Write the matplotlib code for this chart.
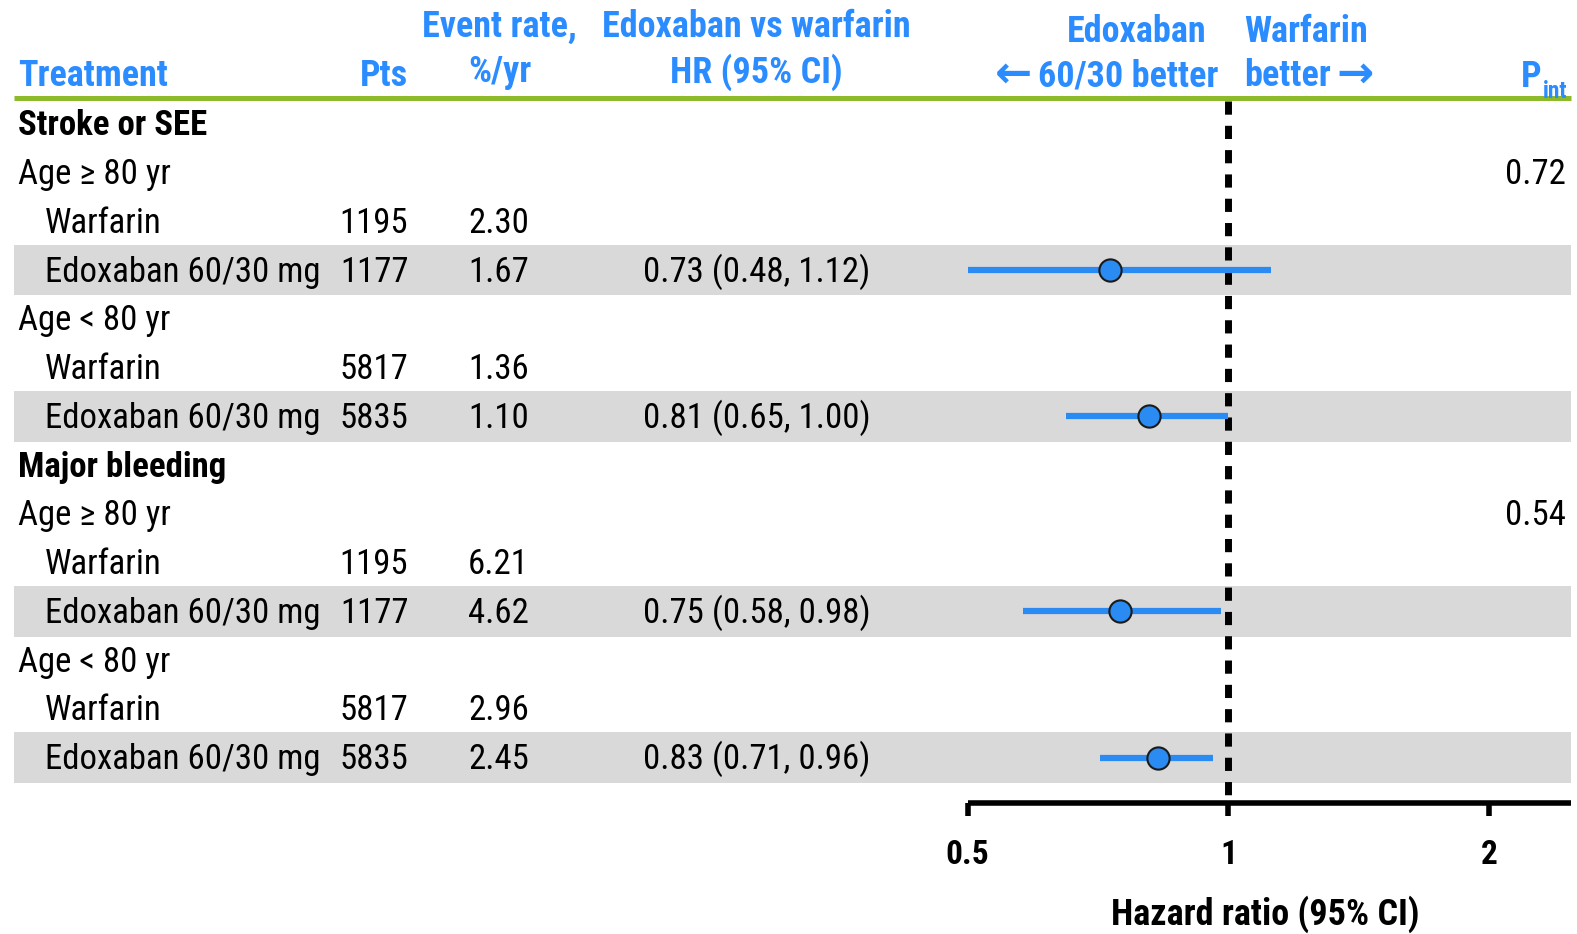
import matplotlib.pyplot as plt
from matplotlib import font_manager

installed = {f.name for f in font_manager.fontManager.ttflist}
narrow = [n for n in ['Liberation Sans Narrow', 'Arial Narrow', 'Roboto Condensed'] if n in installed]
if narrow:
    plt.rcParams['font.family'] = [narrow[0], 'DejaVu Sans']
    fs, hfs = 25, 26
else:
    plt.rcParams['font.family'] = ['Liberation Sans', 'DejaVu Sans']
    fs, hfs = 22, 22

# table rows (top to bottom)
labels = ['Stroke or SEE', 'Age \u2265 80 yr', 'Warfarin', 'Edoxaban 60/30 mg',
          'Age < 80 yr', 'Warfarin', 'Edoxaban 60/30 mg',
          'Major bleeding', 'Age \u2265 80 yr', 'Warfarin', 'Edoxaban 60/30 mg',
          'Age < 80 yr', 'Warfarin', 'Edoxaban 60/30 mg']
levels = [0, 1, 2, 2, 1, 2, 2, 0, 1, 2, 2, 1, 2, 2]
pts = ['', '', '1195', '1177', '', '5817', '5835', '', '', '1195', '1177', '', '5817', '5835']
rates = ['', '', '2.30', '1.67', '', '1.36', '1.10', '', '', '6.21', '4.62', '', '2.96', '2.45']
p_int = ['', '0.72', '', '', '', '', '', '', '0.54', '', '', '', '', '']

# hazard ratios (edoxaban rows)
hr_rows = [3, 6, 10, 13]
hr = [0.73, 0.81, 0.75, 0.83]
ci_lo = [0.48, 0.65, 0.58, 0.71]
ci_hi = [1.12, 1.00, 0.98, 0.96]

hdr_blue = '#2B8CFF'
line_blue = '#2A8BF2'
green = '#8CBA2A'
band = '#D9D9D9'

W, H = 1568, 929   # layout units (as measured on the reference)
ROW0, STEP = 123, 48.5


def ry(px):
    # pixel height -> row units
    return (px - ROW0) / STEP


fig = plt.figure(figsize=(15.77, 9.34), dpi=100)
ax = fig.add_axes([0, 0, 1, 1])
ax.set_xlim(0, W)
ax.set_ylim(ry(H), ry(0))
ax.axis('off')

off = 0.24  # baseline offset in rows

for r in hr_rows:
    ax.fill_between([14, 1562], r - 0.52, r + 0.52, color=band, lw=0, zorder=0)

ax.plot([14, 1562], [ry(97), ry(97)], color=green, lw=3.6, solid_capstyle='butt')

for i, lab in enumerate(labels):
    x = 18 if levels[i] < 2 else 45
    ax.text(x, i + off, lab, fontsize=fs, va='baseline', ha='left',
            fontweight='bold' if levels[i] == 0 else 'normal')
    if pts[i]:
        ax.text(406, i + off, pts[i], fontsize=fs, va='baseline', ha='right')
    if rates[i]:
        ax.text(526, i + off, rates[i], fontsize=fs, va='baseline', ha='right')
    if p_int[i]:
        ax.text(1557, i + off, p_int[i], fontsize=fs, va='baseline', ha='right')

for r, h, lo, hi in zip(hr_rows, hr, ci_lo, ci_hi):
    ax.text(752, r + off, f'{h:.2f} ({lo:.2f}, {hi:.2f})', fontsize=fs,
            va='baseline', ha='center')

# headers
hk = dict(fontsize=hfs, fontweight='bold', color=hdr_blue, va='baseline')
ax.text(18, ry(86), 'Treatment', ha='left', **hk)
ax.text(406, ry(86), 'Pts', ha='right', **hk)
ax.text(497, ry(37), 'Event rate,', ha='center', **hk)
ax.text(497, ry(82), '%/yr', ha='center', **hk)
ax.text(752, ry(37), 'Edoxaban vs warfarin', ha='center', **hk)
ax.text(752, ry(82), 'HR (95% CI)', ha='center', **hk)
ax.text(1130, ry(42), 'Edoxaban', ha='center', **hk)
t_left = ax.text(1211, ry(86), '60/30 better', ha='right', **hk)
ax.text(1237, ry(42), 'Warfarin', ha='left', **hk)
t_right = ax.text(1237, ry(86), 'better', ha='left', **hk)
ax.annotate('\u2190', xy=(0, 0), xycoords=t_left, xytext=(-4, -1),
            textcoords='offset points', ha='right', va='bottom',
            fontsize=hfs + 6, fontweight='bold', color=hdr_blue, family='DejaVu Sans')
ax.annotate('\u2192', xy=(1, 0), xycoords=t_right, xytext=(4, -1),
            textcoords='offset points', ha='left', va='bottom',
            fontsize=hfs + 6, fontweight='bold', color=hdr_blue, family='DejaVu Sans')
ax.text(1533, ry(87), 'P', ha='right', **hk)
ax.text(1534, ry(97), 'int', ha='left', fontsize=hfs * 0.65, fontweight='bold',
        color=hdr_blue, va='baseline')

ax.text(1258, ry(920), 'Hazard ratio (95% CI)', fontsize=26, fontweight='bold',
        ha='center', va='baseline')

# forest panel
fx = fig.add_axes([962 / W, 0, 600 / W, 1])
fx.set_facecolor('none')
fx.set_xscale('log')
fx.set_xlim(0.5, 2 ** (340 / 259))
fx.set_ylim(ry(H), ry(0))
for s in ['top', 'left', 'right']:
    fx.spines[s].set_visible(False)
fx.spines['bottom'].set_position(('data', ry(799)))
fx.spines['bottom'].set_linewidth(4)
fx.spines['bottom'].set_capstyle('butt')
fx.set_xticks([0.5, 1, 2])
fx.set_xticklabels(['0.5', '1', '2'])
fx.minorticks_off()
fx.tick_params(axis='x', direction='out', length=9, width=4, pad=17,
               labelsize=24, labelcolor='black')
for t in fx.get_xticklabels():
    t.set_fontweight('bold')
fx.set_yticks([])

fx.vlines(1, ry(100), ry(799), colors='black', lw=5, linestyles=(0, (1.9, 1.6)))
fx.hlines(hr_rows, ci_lo, ci_hi, colors=line_blue, lw=4.5)
fx.plot(hr, hr_rows, 'o', ms=16, mfc=line_blue, mec='#1A1A1A', mew=1.5, zorder=4)

plt.savefig('out.png', dpi=100)
